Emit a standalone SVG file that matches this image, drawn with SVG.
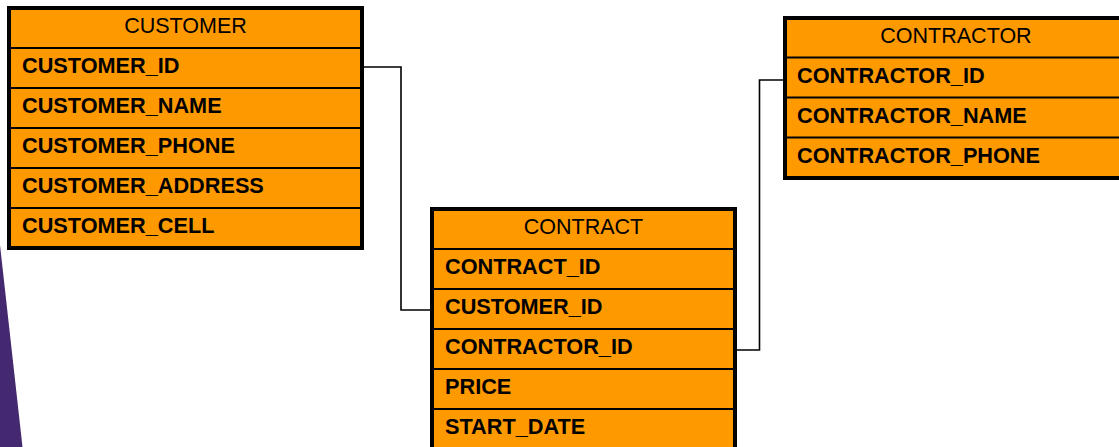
<svg xmlns="http://www.w3.org/2000/svg" width="1119" height="447" viewBox="0 0 1119 447">
  <style>
    .box { fill: #FF9900; stroke: #000; stroke-width: 4; }
    .div { stroke: #000; stroke-width: 2; }
    .hdr { font-family: "Liberation Sans", Arial, sans-serif; font-size: 21.5px; fill: #000; text-anchor: middle; }
    .fld { font-family: "Liberation Sans", Arial, sans-serif; font-size: 21.7px; font-weight: bold; fill: #000; }
    .conn { fill: none; stroke: #000; stroke-width: 1.6; }
  </style>
  <polygon points="0,245 22.5,447 0,447" fill="#452970"/>

  <g id="connectors">
    <polyline class="conn" points="364,67 401,67 401,310 430,310"/>
    <polyline class="conn" points="737,350 759.5,350 759.5,80 783,80"/>
  </g>

  <g id="customer">
    <rect class="box" x="9" y="8" width="353" height="240"/>
    <line class="div" x1="9" y1="48" x2="362" y2="48"/>
    <line class="div" x1="9" y1="88" x2="362" y2="88"/>
    <line class="div" x1="9" y1="128" x2="362" y2="128"/>
    <line class="div" x1="9" y1="168" x2="362" y2="168"/>
    <line class="div" x1="9" y1="208" x2="362" y2="208"/>
    <text class="hdr" x="185.5" y="32.5">CUSTOMER</text>
    <text class="fld" x="22" y="73">CUSTOMER_ID</text>
    <text class="fld" x="22" y="113">CUSTOMER_NAME</text>
    <text class="fld" x="22" y="153">CUSTOMER_PHONE</text>
    <text class="fld" x="22" y="193">CUSTOMER_ADDRESS</text>
    <text class="fld" x="22" y="233">CUSTOMER_CELL</text>
  </g>

  <g id="contract">
    <rect class="box" x="432" y="209" width="303" height="260"/>
    <line class="div" x1="432" y1="249" x2="735" y2="249"/>
    <line class="div" x1="432" y1="289" x2="735" y2="289"/>
    <line class="div" x1="432" y1="329" x2="735" y2="329"/>
    <line class="div" x1="432" y1="369" x2="735" y2="369"/>
    <line class="div" x1="432" y1="409" x2="735" y2="409"/>
    <text class="hdr" x="583.5" y="233.5">CONTRACT</text>
    <text class="fld" x="445" y="274">CONTRACT_ID</text>
    <text class="fld" x="445" y="314">CUSTOMER_ID</text>
    <text class="fld" x="445" y="354">CONTRACTOR_ID</text>
    <text class="fld" x="445" y="394">PRICE</text>
    <text class="fld" x="445" y="434">START_DATE</text>
  </g>

  <g id="contractor">
    <rect class="box" x="785" y="18" width="400" height="160"/>
    <line class="div" x1="785" y1="57.5" x2="1185" y2="57.5"/>
    <line class="div" x1="785" y1="97.5" x2="1185" y2="97.5"/>
    <line class="div" x1="785" y1="137.5" x2="1185" y2="137.5"/>
    <text class="hdr" x="956" y="43">CONTRACTOR</text>
    <text class="fld" x="797" y="83">CONTRACTOR_ID</text>
    <text class="fld" x="797" y="123">CONTRACTOR_NAME</text>
    <text class="fld" x="797" y="163">CONTRACTOR_PHONE</text>
  </g>
</svg>
